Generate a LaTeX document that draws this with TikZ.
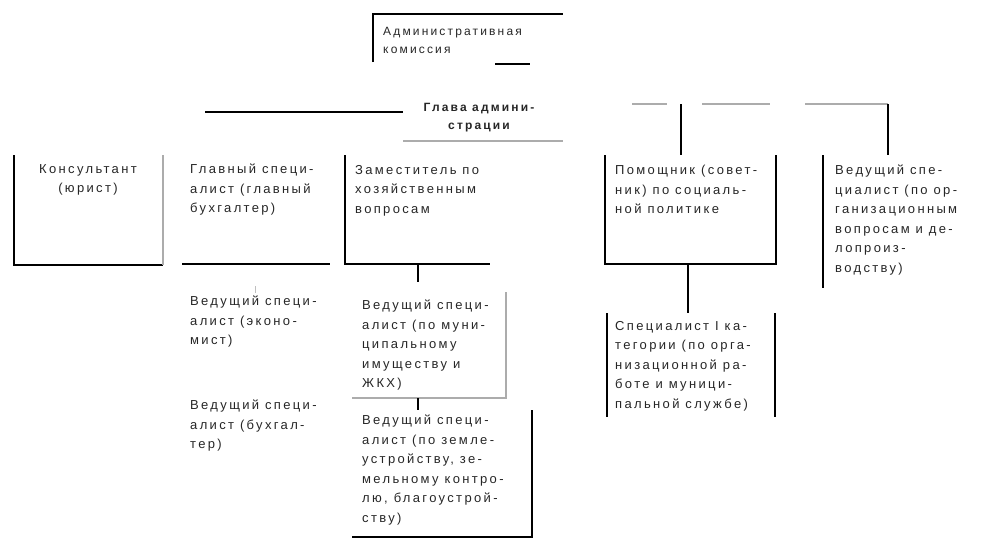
\documentclass[tikz,border=0pt]{standalone}
\usepackage{fontspec}
\setmainfont{Liberation Sans}[LetterSpace=18]
\begin{document}
\begin{tikzpicture}[x=1pt,y=-1pt,
  ln/.style={line width=1.5pt, black},
  lg/.style={line width=1.5pt, gray!65},
  txt/.style={font=\fontsize{13}{19.5}\selectfont, align=left, anchor=north west, inner sep=0pt, text=black!85}]
\useasboundingbox (0,0) rectangle (995,538);

% ---- texts ----
\node[txt, font=\fontsize{12}{18.5}\selectfont] (adm) at (383,27) {Административная\\комиссия};
\node[txt, align=center, anchor=north, font=\fontsize{12}{18.5}\selectfont\bfseries] (head) at (479,103) {Глава админи-\\страции};
\node[txt, align=center, anchor=north] (kons) at (88,164) {Консультант\\(юрист)};
\node[txt] (glav) at (190,164) {Главный специ-\\алист (главный\\бухгалтер)};
\node[txt] (zam) at (355,165) {Заместитель по\\хозяйственным\\вопросам};
\node[txt] (pom) at (615,165) {Помощник (совет-\\ник) по социаль-\\ной политике};
\node[txt] (org) at (835,165) {Ведущий спе-\\циалист (по ор-\\ганизационным\\вопросам и де-\\лопроиз-\\водству)};
\node[txt] (econ) at (190,296) {Ведущий специ-\\алист (эконо-\\мист)};
\node[txt] (buh) at (190,400) {Ведущий специ-\\алист (бухгал-\\тер)};
\node[txt] (zhkh) at (362,300) {Ведущий специ-\\алист (по муни-\\ципальному\\имуществу и\\ЖКХ)};
\node[txt] (blag) at (362,415) {Ведущий специ-\\алист (по земле-\\устройству, зе-\\мельному контро-\\лю, благоустрой-\\ству)};
\node[txt] (spec) at (615,321) {Специалист I ка-\\тегории (по орга-\\низационной ра-\\боте и муници-\\пальной службе)};

% ---- named points ----
\coordinate (admA) at (373,62); \coordinate (admB) at (373,14); \coordinate (admC) at (563,14);
\coordinate (admD) at (495,64); \coordinate (admE) at (530,64);
\coordinate (hL) at (205,112); \coordinate (hR) at (403,112);
\coordinate (uL) at (403,141); \coordinate (uR) at (563,141);
\coordinate (s1a) at (632,104); \coordinate (s1b) at (667,104);
\coordinate (s2a) at (702,104); \coordinate (s2b) at (770,104);
\coordinate (s3a) at (805,104); \coordinate (s3b) at (888,104);
\coordinate (pomTop) at (681,104); \coordinate (pomIn) at (681,155);
\coordinate (orgTop) at (888,155);
% Консультант
\coordinate (k1) at (14,155); \coordinate (k2) at (14,265); \coordinate (k3) at (163,265); \coordinate (k4) at (163,155);
% Главный
\coordinate (g1) at (182,264); \coordinate (g2) at (330,264);
% Заместитель
\coordinate (z1) at (345,155); \coordinate (z2) at (345,264); \coordinate (z3) at (490,264);
\coordinate (zm) at (418,264); \coordinate (zd) at (418,282);
\coordinate (t1) at (255,286); \coordinate (t2) at (255,293);
% ЖКХ
\coordinate (j1) at (506,292); \coordinate (j2) at (506,398); \coordinate (j3) at (352,398);
\coordinate (jm) at (418,398); \coordinate (jd) at (418,410);
% Благоустройство
\coordinate (b1) at (532,410); \coordinate (b2) at (532,537); \coordinate (b3) at (352,537);
% Помощник
\coordinate (p1) at (605,155); \coordinate (p2) at (605,264); \coordinate (p3) at (776,264); \coordinate (p4) at (776,155);
\coordinate (pm) at (688,264); \coordinate (pd) at (688,313);
% Организационный
\coordinate (o1) at (823,155); \coordinate (o2) at (823,288);
% Специалист
\coordinate (c1) at (607,313); \coordinate (c2) at (607,417);
\coordinate (c3) at (775,313); \coordinate (c4) at (775,417);

% ---- lines ----
\draw[ln] (admA) -- (admB) -- (admC);
\draw[ln] (admD) -- (admE);
\draw[ln] (hL) -- (hR);
\draw[lg] (uL) -- (uR);
\draw[lg] (s1a) -- (s1b);
\draw[lg] (s2a) -- (s2b);
\draw[lg] (s3a) -- (s3b);
\draw[ln] (s3b) -- (orgTop);
\draw[ln] (pomTop) -- (pomIn);
\draw[ln] (k1) -- (k2) -- (k3);
\draw[lg] (k3) -- (k4);
\draw[ln] (g1) -- (g2);
\draw[ln] (z1) -- (z2) -- (z3);
\draw[ln] (zm) -- (zd);
\draw[line width=0.8pt, gray!50] (t1) -- (t2);
\draw[lg] (j1) -- (j2) -- (j3);
\draw[ln] (jm) -- (jd);
\draw[ln] (b1) -- (b2) -- (b3);
\draw[ln] (p1) -- (p2) -- (p3) -- (p4);
\draw[ln] (pm) -- (pd);
\draw[ln] (o1) -- (o2);
\draw[ln] (c1) -- (c2);
\draw[ln] (c3) -- (c4);
\end{tikzpicture}
\end{document}
